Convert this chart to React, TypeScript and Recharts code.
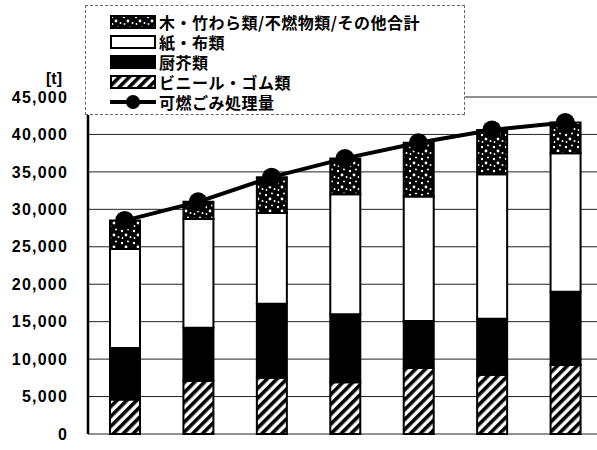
import { ComposedChart, Bar, Line, XAxis, YAxis, CartesianGrid } from "recharts";

const categories = ["1", "2", "3", "4", "5", "6", "7"];
const vinyl = [4600, 7100, 7500, 6900, 8800, 7900, 9200];
const kitchen = [6900, 7100, 9900, 9100, 6300, 7500, 9800];
const paper = [13200, 14500, 12100, 16000, 16600, 19300, 18500];
const other = [3800, 2300, 4800, 4800, 7200, 5900, 4100];
const total = [28500, 31000, 34300, 36800, 38900, 40600, 41600];
const yTicks = [0, 5000, 10000, 15000, 20000, 25000, 30000, 35000, 40000, 45000];

const legendNames = [
  "木・竹わら類/不燃物類/その他合計",
  "紙・布類",
  "厨芥類",
  "ビニール・ゴム類",
  "可燃ごみ処理量",
];
const legendFills = ["url(#dots)", "#fff", "#000", "url(#hatch)", "line"];

const data = categories.map((c, i) => ({
  name: c,
  vinyl: vinyl[i],
  kitchen: kitchen[i],
  paper: paper[i],
  other: other[i],
  total: total[i],
}));

const fmt = (v: number) => v.toLocaleString("en-US");

// shared patterns for bars and legend swatches
function Patterns() {
  return (
    <svg width={0} height={0} style={{ position: "absolute" }}>
      <defs>
        <pattern id="hatch" patternUnits="userSpaceOnUse" width={7} height={7} patternTransform="rotate(45)">
          <rect width={7} height={7} fill="#fff" />
          <rect width={3.6} height={7} fill="#000" />
        </pattern>
        <pattern id="dots" patternUnits="userSpaceOnUse" width={12} height={12}>
          <rect width={12} height={12} fill="#000" />
          <circle cx={2} cy={3} r={1.2} fill="#fff" />
          <circle cx={8} cy={1.5} r={1} fill="#fff" />
          <circle cx={6} cy={7} r={1.4} fill="#fff" />
          <circle cx={10.5} cy={9} r={1} fill="#fff" />
          <circle cx={2.5} cy={10} r={0.9} fill="#fff" />
        </pattern>
      </defs>
    </svg>
  );
}

const Dot = (props: any) => {
  const { cx, cy } = props;
  return <circle cx={cx} cy={cy} r={9.5} fill="#000" />;
};

export default function App() {
  return (
    <div style={{ position: "absolute", left: 0, top: 0, width: 597, height: 450, overflow: "hidden", background: "#fff" }}>
      <Patterns />
      <div style={{ position: "absolute", left: 46, top: 70, fontFamily: "'Liberation Sans', sans-serif", fontWeight: 700, fontSize: 16 }}>
        [t]
      </div>
      <ComposedChart
        width={610}
        height={450}
        data={data}
        margin={{ top: 97, right: 8, bottom: 16, left: 0 }}
        barCategoryGap={0}
      >
        <CartesianGrid vertical={false} stroke="#222" strokeWidth={1} />
        <XAxis dataKey="name" tick={false} tickLine={false} height={0} axisLine={{ stroke: "#000", strokeWidth: 2.5 }} />
        <YAxis
          width={88}
          domain={[0, 45000]}
          ticks={yTicks}
          tickFormatter={fmt}
          tickLine={false}
          tickSize={0}
          tickMargin={20}
          interval={0}
          axisLine={{ stroke: "#000", strokeWidth: 2.5 }}
          tick={{ fill: "#000", fontSize: 16, fontWeight: 700, letterSpacing: 1.2, fontFamily: "'Liberation Sans', sans-serif" }}
        />
        <Bar dataKey="vinyl" stackId="a" fill="url(#hatch)" stroke="#000" strokeWidth={2} barSize={30} isAnimationActive={false} />
        <Bar dataKey="kitchen" stackId="a" fill="#000" stroke="#000" strokeWidth={2} barSize={30} isAnimationActive={false} />
        <Bar dataKey="paper" stackId="a" fill="#fff" stroke="#000" strokeWidth={2} barSize={30} isAnimationActive={false} />
        <Bar dataKey="other" stackId="a" fill="url(#dots)" stroke="#000" strokeWidth={2} barSize={30} isAnimationActive={false} />
        <Line dataKey="total" type="linear" stroke="#000" strokeWidth={4} dot={<Dot />} activeDot={false} isAnimationActive={false} />
      </ComposedChart>
      <div
        style={{
          position: "absolute",
          left: 85,
          top: 5,
          width: 380,
          height: 110,
          background: "#fff",
          border: "1px dashed #666",
          boxSizing: "border-box",
          paddingTop: 6,
          paddingLeft: 24,
          fontFamily: "'Noto Sans CJK JP', sans-serif",
          fontWeight: 700,
          fontSize: 16,
          color: "#000",
        }}
      >
        {legendNames.map((n, i) => (
          <div key={n} style={{ display: "flex", alignItems: "center", height: 20 }}>
            <svg width={46} height={16} style={{ marginRight: 3 }}>
              {legendFills[i] === "line" ? (
                <g>
                  <line x1={0} y1={8} x2={46} y2={8} stroke="#000" strokeWidth={4} />
                  <circle cx={23} cy={8} r={7} fill="#000" />
                </g>
              ) : (
                <rect x={1} y={2} width={44} height={12} fill={legendFills[i]} stroke="#000" strokeWidth={2} />
              )}
            </svg>
            <span style={{ lineHeight: "18px", letterSpacing: 0.5 }}>{n}</span>
          </div>
        ))}
      </div>
    </div>
  );
}
